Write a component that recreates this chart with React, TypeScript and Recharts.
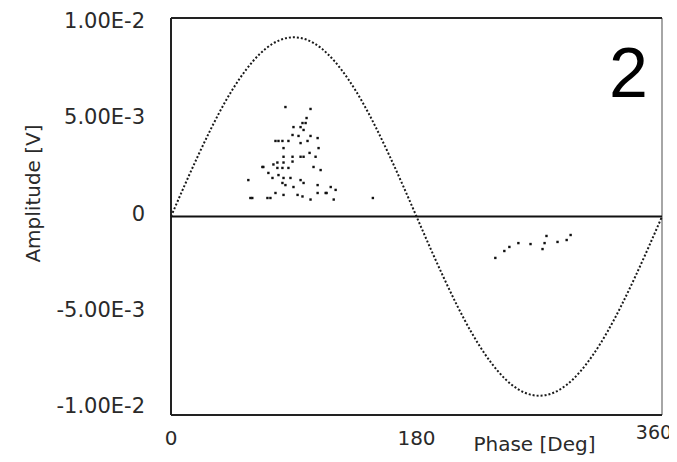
import React from "react";
import {
  ComposedChart,
  Line,
  Scatter,
  XAxis,
  YAxis,
  ReferenceLine,
} from "recharts";

// Phase-resolved reference sine (read every 10 degrees)
const sinePhase = [
  0, 10, 20, 30, 40, 50, 60, 70, 80, 90, 100, 110, 120, 130, 140, 150, 160, 170, 180,
  190, 200, 210, 220, 230, 240, 250, 260, 270, 280, 290, 300, 310, 320, 330, 340, 350, 360,
];
const sineAmp = [
  0, 0.00162, 0.00318, 0.00465, 0.00598, 0.00712, 0.00805, 0.00874, 0.00916, 0.0093,
  0.00916, 0.00874, 0.00805, 0.00712, 0.00598, 0.00465, 0.00318, 0.00162, 0,
  -0.00162, -0.00318, -0.00465, -0.00598, -0.00712, -0.00805, -0.00874, -0.00916, -0.0093,
  -0.00916, -0.00874, -0.00805, -0.00712, -0.00598, -0.00465, -0.00318, -0.00162, 0,
];

// Positive half-cycle discharge cluster
const posPhase = [
  83.9, 102.3, 99.4, 96.4, 98.7, 89.8, 95.0, 97.2, 89.1, 93.5, 102.3, 107.5, 76.6, 81.7,
  86.1, 95.0, 100.1, 108.2, 82.5, 101.6, 89.1, 95.0, 97.2, 106.0, 82.5, 78.0, 82.5, 89.1,
  104.5, 67.7, 78.0, 81.7, 86.1, 109.7, 71.4, 78.8, 82.5, 87.6, 95.0, 97.2, 81.7, 83.9,
  107.5, 117.1, 74.4, 56.7, 89.8, 76.6, 70.7, 72.9, 59.6, 82.5, 96.4, 102.3, 113.4, 120.7,
  119.3, 58.2, 92.8, 107.5, 114.1, 148.0, 67.0, 78.8, 75.1,
];
const posAmp = [
  0.00568, 0.00558, 0.00511, 0.00485, 0.00485, 0.00464, 0.00464, 0.00449, 0.00423, 0.00418,
  0.00418, 0.00407, 0.00392, 0.00392, 0.00392, 0.00381, 0.00392, 0.00355, 0.00355, 0.0033,
  0.0031, 0.0031, 0.0031, 0.0031, 0.0031, 0.0028, 0.0028, 0.00285, 0.00257, 0.00257,
  0.00252, 0.00252, 0.00252, 0.00241, 0.00226, 0.00215, 0.002, 0.002, 0.00189, 0.00174,
  0.00174, 0.00163, 0.00163, 0.00153, 0.002, 0.00189, 0.00153, 0.00122, 0.00096, 0.00096,
  0.00096, 0.00112, 0.00104, 0.00088, 0.00122, 0.00138, 0.00088, 0.00096, 0.00112, 0.00122,
  0.00122, 0.00096, 0.00257, 0.00392, 0.0027,
];

// Negative half-cycle discharge cluster
const negPhase = [237.8, 244.4, 248.1, 254.7, 263.6, 272.4, 273.9, 275.3, 283.4, 290.1, 293.0];
const negAmp = [
  -0.00215, -0.00179, -0.00158, -0.00138, -0.00143, -0.00169, -0.00138, -0.00101, -0.00132,
  -0.00122, -0.00096,
];

const xTicks = [0, 180, 360];
const xTickLabels = ["0", "180", "360"];
const yTicks = [-0.01, -0.005, 0, 0.005, 0.01];
const yTickLabels = ["-1.00E-2", "-5.00E-3", "0", "5.00E-3", "1.00E-2"];
const yLimit = 0.0103;

const sineData = sinePhase.map((p, i) => ({ phase: p, amp: sineAmp[i] }));
const posData = posPhase.map((p, i) => ({ phase: p, amp: posAmp[i] }));
const negData = negPhase.map((p, i) => ({ phase: p, amp: negAmp[i] }));

const FONT = "'DejaVu Sans', Verdana, sans-serif";
const TEXT = "#2a2a2a";

const DotShape = (props: any) => {
  const { cx, cy } = props;
  if (cx == null || cy == null) return null;
  return <rect x={cx - 1.2} y={cy - 1.2} width={2.4} height={2.4} fill="#111" />;
};

const XTick = (props: any) => {
  const { x, y, payload, index } = props;
  const last = index === xTicks.length - 1;
  const i = xTicks.indexOf(payload.value);
  return (
    <text
      x={x + (last ? -8 : 0)}
      y={y + (last ? -5 : 0)}
      dy="0.71em"
      textAnchor="middle"
      fontFamily={FONT}
      fontSize={last ? 19 : 20}
      fill={TEXT}
    >
      {i >= 0 ? xTickLabels[i] : ""}
    </text>
  );
};

const YTick = (props: any) => {
  const { x, y, payload } = props;
  const i = yTicks.findIndex((t) => Math.abs(t - payload.value) < 1e-9);
  return (
    <text
      x={x - 26}
      y={y - 3}
      dominantBaseline="central"
      textAnchor="end"
      fontFamily={FONT}
      fontSize={21}
      fill={TEXT}
    >
      {i >= 0 ? yTickLabels[i] : ""}
    </text>
  );
};

const YLabel = (props: any) => {
  const vb = props.viewBox || { x: 0, y: 0, width: 0, height: 0 };
  const x = vb.x + 25;
  const y = vb.y + vb.height / 2 - 23;
  return (
    <text
      x={x}
      y={y}
      transform={`rotate(-90, ${x}, ${y})`}
      textAnchor="middle"
      dominantBaseline="central"
      fontFamily={FONT}
      fontSize={20}
      fill={TEXT}
    >
      Amplitude [V]
    </text>
  );
};

const XLabel = (props: any) => {
  const vb = props.viewBox || { x: 0, y: 0, width: 0, height: 0 };
  const x = vb.x + vb.width / 2 + 118;
  const y = vb.y + 29;
  return (
    <text
      x={x}
      y={y}
      textAnchor="middle"
      dominantBaseline="central"
      fontFamily={FONT}
      fontSize={20}
      fill={TEXT}
    >
      Phase [Deg]
    </text>
  );
};

export default function App() {
  return (
    <div style={{ position: "relative", width: 669, height: 454, background: "#fff" }}>
      <ComposedChart
        width={669}
        height={454}
        data={sineData}
        margin={{ top: 10, right: 15, left: 0, bottom: 17 }}
      >
        <XAxis
          type="number"
          dataKey="phase"
          domain={[0, 360]}
          ticks={xTicks}
          axisLine={false}
          tickLine={false}
          tickSize={0}
          tickMargin={16}
          height={30}
          tick={XTick}
          label={XLabel}
        />
        <YAxis
          type="number"
          dataKey="amp"
          domain={[-yLimit, yLimit]}
          ticks={yTicks}
          axisLine={false}
          tickLine={false}
          tickSize={0}
          tickMargin={0}
          width={163}
          tick={YTick}
          label={YLabel}
        />
        <ReferenceLine x={0} stroke="#222" strokeWidth={2} />
        <ReferenceLine x={360} stroke="#888" strokeWidth={1.5} />
        <ReferenceLine y={yLimit} stroke="#222" strokeWidth={2} />
        <ReferenceLine y={-yLimit} stroke="#222" strokeWidth={2} />
        <ReferenceLine y={0} stroke="#111" strokeWidth={2} />
        <Line
          type="natural"
          dataKey="amp"
          stroke="#1a1a1a"
          strokeWidth={2}
          strokeDasharray="2 2"
          dot={false}
          activeDot={false}
          isAnimationActive={false}
        />
        <Scatter data={posData} dataKey="amp" shape={DotShape} isAnimationActive={false} />
        <Scatter data={negData} dataKey="amp" shape={DotShape} isAnimationActive={false} />
      </ComposedChart>
      <div
        style={{
          position: "absolute",
          left: 601,
          top: 30,
          fontFamily: "'Liberation Sans', Arial, sans-serif",
          fontSize: 70,
          lineHeight: "70px",
          color: "#000",
        }}
      >
        2
      </div>
    </div>
  );
}
